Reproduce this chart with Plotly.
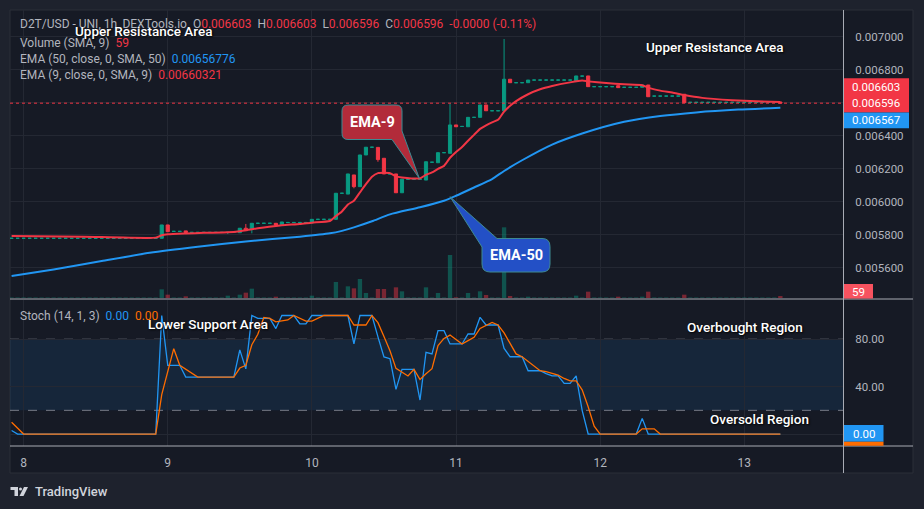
import plotly.graph_objects as go
import pandas as pd

# ---------------- DATA (hourly candles, hour 0 = day 8 00:00) ----------------
hours = list(range(-2, 127))

opens = [
    0.005777, 0.005777, 0.005777, 0.005777, 0.005777, 0.005777, 0.005777, 0.005777, 0.005777, 0.005777,
    0.005777, 0.005777, 0.005777, 0.005777, 0.005777, 0.005777, 0.005777, 0.005777, 0.005777, 0.005777,
    0.005777, 0.005777, 0.005777, 0.005777, 0.005777, 0.005777, 0.005858, 0.005819, 0.005819, 0.005822,
    0.005813, 0.005813, 0.005813, 0.005813, 0.005813, 0.005813, 0.005813, 0.005813, 0.005811, 0.005838,
    0.005832, 0.005868, 0.005868, 0.005868, 0.005868, 0.005859, 0.005873, 0.005873, 0.005873, 0.005873,
    0.005870, 0.005892, 0.005892, 0.005892, 0.005892, 0.006050, 0.006045, 0.006161, 0.006090, 0.006282,
    0.006329, 0.006328, 0.006262, 0.006167, 0.006167, 0.006053, 0.006135, 0.006135, 0.006135, 0.006130,
    0.006238, 0.006235, 0.006296, 0.006292, 0.006464, 0.006455, 0.006453, 0.006510, 0.006510, 0.006585,
    0.006550, 0.006550, 0.006550, 0.006741, 0.006720, 0.006720, 0.006720, 0.006736, 0.006736, 0.006736,
    0.006736, 0.006736, 0.006736, 0.006736, 0.006732, 0.006760, 0.006761, 0.006696, 0.006696, 0.006696,
    0.006696, 0.006702, 0.006692, 0.006692, 0.006692, 0.006692, 0.006706, 0.006639, 0.006639, 0.006639,
    0.006639, 0.006639, 0.006650, 0.006601, 0.006601, 0.006601, 0.006601, 0.006601, 0.006601, 0.006601,
    0.006601, 0.006601, 0.006601, 0.006601, 0.006601, 0.006601, 0.006601, 0.006601, 0.006603,
]
highs = [
    0.005777, 0.005777, 0.005777, 0.005777, 0.005777, 0.005777, 0.005777, 0.005777, 0.005777, 0.005777,
    0.005777, 0.005777, 0.005777, 0.005777, 0.005777, 0.005777, 0.005777, 0.005777, 0.005777, 0.005777,
    0.005777, 0.005777, 0.005777, 0.005777, 0.005777, 0.005858, 0.005858, 0.005819, 0.005819, 0.005822,
    0.005813, 0.005813, 0.005813, 0.005813, 0.005813, 0.005813, 0.005813, 0.005813, 0.005838, 0.005864,
    0.005868, 0.005868, 0.005868, 0.005868, 0.005868, 0.005876, 0.005873, 0.005873, 0.005873, 0.005873,
    0.005892, 0.005892, 0.005892, 0.005892, 0.006050, 0.006050, 0.006167, 0.006161, 0.006282, 0.006329,
    0.006329, 0.006328, 0.006262, 0.006167, 0.006167, 0.006135, 0.006135, 0.006135, 0.006135, 0.006241,
    0.006238, 0.006296, 0.006296, 0.006595, 0.006464, 0.006455, 0.006510, 0.006510, 0.006585, 0.006585,
    0.006550, 0.006550, 0.006985, 0.006741, 0.006720, 0.006720, 0.006736, 0.006736, 0.006736, 0.006736,
    0.006736, 0.006736, 0.006736, 0.006736, 0.006761, 0.006760, 0.006761, 0.006696, 0.006696, 0.006696,
    0.006696, 0.006702, 0.006692, 0.006692, 0.006692, 0.006706, 0.006706, 0.006639, 0.006639, 0.006639,
    0.006639, 0.006639, 0.006650, 0.006601, 0.006601, 0.006601, 0.006601, 0.006601, 0.006601, 0.006601,
    0.006601, 0.006601, 0.006601, 0.006601, 0.006601, 0.006601, 0.006601, 0.006601, 0.006603,
]
lows = [
    0.005777, 0.005777, 0.005777, 0.005777, 0.005777, 0.005777, 0.005777, 0.005777, 0.005777, 0.005777,
    0.005777, 0.005777, 0.005777, 0.005777, 0.005777, 0.005777, 0.005777, 0.005777, 0.005777, 0.005777,
    0.005777, 0.005777, 0.005777, 0.005777, 0.005777, 0.005777, 0.005817, 0.005819, 0.005819, 0.005812,
    0.005813, 0.005813, 0.005813, 0.005813, 0.005813, 0.005813, 0.005803, 0.005813, 0.005811, 0.005823,
    0.005807, 0.005868, 0.005868, 0.005868, 0.005857, 0.005859, 0.005873, 0.005873, 0.005873, 0.005873,
    0.005870, 0.005892, 0.005892, 0.005892, 0.005890, 0.006050, 0.006045, 0.006080, 0.006090, 0.006282,
    0.006329, 0.006241, 0.006167, 0.006167, 0.006053, 0.006053, 0.006135, 0.006135, 0.006135, 0.006130,
    0.006238, 0.006235, 0.006296, 0.006292, 0.006453, 0.006455, 0.006453, 0.006510, 0.006510, 0.006550,
    0.006550, 0.006550, 0.006550, 0.006720, 0.006720, 0.006720, 0.006720, 0.006736, 0.006736, 0.006736,
    0.006736, 0.006736, 0.006736, 0.006736, 0.006732, 0.006760, 0.006696, 0.006696, 0.006696, 0.006696,
    0.006696, 0.006690, 0.006692, 0.006692, 0.006692, 0.006692, 0.006635, 0.006639, 0.006639, 0.006639,
    0.006639, 0.006639, 0.006599, 0.006601, 0.006601, 0.006601, 0.006601, 0.006601, 0.006601, 0.006601,
    0.006601, 0.006601, 0.006601, 0.006601, 0.006601, 0.006601, 0.006601, 0.006601, 0.006596,
]
closes = [
    0.005777, 0.005777, 0.005777, 0.005777, 0.005777, 0.005777, 0.005777, 0.005777, 0.005777, 0.005777,
    0.005777, 0.005777, 0.005777, 0.005777, 0.005777, 0.005777, 0.005777, 0.005777, 0.005777, 0.005777,
    0.005777, 0.005777, 0.005777, 0.005777, 0.005777, 0.005858, 0.005817, 0.005819, 0.005819, 0.005812,
    0.005813, 0.005813, 0.005813, 0.005813, 0.005813, 0.005813, 0.005813, 0.005813, 0.005838, 0.005823,
    0.005868, 0.005868, 0.005868, 0.005868, 0.005857, 0.005876, 0.005873, 0.005873, 0.005873, 0.005873,
    0.005892, 0.005892, 0.005892, 0.005892, 0.006050, 0.006050, 0.006167, 0.006090, 0.006282, 0.006329,
    0.006329, 0.006254, 0.006167, 0.006167, 0.006053, 0.006135, 0.006135, 0.006135, 0.006135, 0.006241,
    0.006238, 0.006296, 0.006296, 0.006464, 0.006453, 0.006455, 0.006510, 0.006510, 0.006585, 0.006550,
    0.006550, 0.006550, 0.006741, 0.006720, 0.006720, 0.006720, 0.006736, 0.006736, 0.006736, 0.006736,
    0.006736, 0.006736, 0.006736, 0.006736, 0.006761, 0.006760, 0.006696, 0.006696, 0.006696, 0.006696,
    0.006696, 0.006690, 0.006692, 0.006692, 0.006692, 0.006706, 0.006635, 0.006639, 0.006639, 0.006639,
    0.006639, 0.006639, 0.006599, 0.006601, 0.006601, 0.006601, 0.006601, 0.006601, 0.006601, 0.006601,
    0.006601, 0.006601, 0.006601, 0.006601, 0.006601, 0.006601, 0.006601, 0.006601, 0.006596,
]
volumes = [
    15, 15, 15, 15, 15, 15, 15, 15, 15, 15,
    15, 15, 15, 15, 15, 15, 15, 15, 15, 15,
    15, 15, 15, 15, 15, 260, 100, 15, 15, 50,
    15, 15, 15, 15, 15, 15, 70, 15, 100, 160,
    280, 15, 15, 15, 40, 15, 15, 15, 15, 15,
    70, 15, 15, 15, 480, 15, 350, 290, 570, 150,
    15, 270, 270, 15, 320, 200, 15, 15, 15, 320,
    15, 150, 15, 1290, 20, 15, 150, 15, 200, 90,
    15, 15, 2120, 60, 15, 15, 40, 15, 15, 15,
    15, 15, 15, 15, 70, 15, 190, 15, 15, 15,
    15, 40, 15, 15, 15, 40, 190, 15, 15, 15,
    15, 15, 100, 15, 15, 15, 15, 15, 15, 15,
    15, 15, 15, 15, 15, 15, 15, 15, 59,
]
stoch_k = [
    3, 0, 0, 0, 0, 0, 0, 0, 0, 0,
    0, 0, 0, 0, 0, 0, 0, 0, 0, 0,
    0, 0, 0, 0, 0, 100, 58, 58, 58, 48,
    48, 48, 48, 48, 48, 48, 48, 48, 71, 55,
    100, 97.6, 97.6, 97.6, 89, 100, 100, 100, 93, 93,
    100, 100, 100, 100, 100, 100, 100, 76, 100, 100,
    100, 82, 65, 63.6, 37.7, 54.6, 54.6, 54.6, 28.7, 69,
    67.6, 87.2, 87.2, 76, 76, 76, 84.4, 84.4, 98.5, 92,
    92, 92, 72.3, 65.2, 65.2, 65.2, 53.4, 53.4, 53.4, 51,
    49, 49, 42.8, 42.8, 49, 20, 0, 0, 0, 0,
    0, 0, 0, 0, 0, 13.2, 0, 0, 0, 0,
    0, 0, 0, 0, 0, 0, 0, 0, 0, 0,
    0, 0, 0, 0, 0, 0, 0, 0, 0,
]
stoch_d = [
    10, 5, 0, 0, 0, 0, 0, 0, 0, 0,
    0, 0, 0, 0, 0, 0, 0, 0, 0, 0,
    0, 0, 0, 0, 0, 33.3, 52.7, 72, 58, 54.7,
    51.3, 48, 48, 48, 48, 48, 48, 48, 55.7, 58,
    75.3, 84.2, 98.4, 97.6, 94.7, 95.5, 96.3, 100, 97.7, 95.3,
    95.3, 97.7, 100, 100, 100, 100, 100, 92, 92, 92,
    100, 94, 82.3, 70.2, 55.4, 52, 49, 54.6, 46, 50.8,
    55.1, 74.6, 80.7, 83.5, 79.7, 76, 78.8, 81.6, 89.1, 91.6,
    94.2, 92, 85.4, 76.5, 67.6, 65.2, 61.3, 57.3, 53.4, 52.6,
    51.1, 49.7, 46.9, 44.9, 44.9, 37.3, 23, 6.7, 0, 0,
    0, 0, 0, 0, 0, 4.4, 4.4, 4.4, 0, 0,
    0, 0, 0, 0, 0, 0, 0, 0, 0, 0,
    0, 0, 0, 0, 0, 0, 0, 0, 0,
]
ema9_hours = [-2, 10, 22, 23, 24, 27, 30, 34, 36, 38, 40, 43, 46, 48, 51, 52, 53, 54, 55, 56, 57, 58,
              59, 60, 61, 62, 63, 66, 67, 68, 69, 70, 71, 72, 73, 74, 75, 76, 77, 78, 79, 80, 81, 82,
              84, 86, 88, 91, 93, 94, 97, 100, 103, 104, 106, 108, 110, 113, 118, 122, 126]
ema9_values = [0.005791, 0.005787, 0.005781, 0.005796, 0.005801, 0.005806, 0.005810, 0.005813, 0.005820,
               0.005832, 0.005843, 0.005856, 0.005864, 0.005872, 0.005882, 0.005912, 0.005940, 0.005982,
               0.006005, 0.006055, 0.006105, 0.006150, 0.006172, 0.006174, 0.006172, 0.006152, 0.006146,
               0.006140, 0.006162, 0.006176, 0.006198, 0.006216, 0.006265, 0.006300, 0.006330, 0.006368,
               0.006404, 0.006440, 0.006462, 0.006480, 0.006495, 0.006545, 0.006580, 0.006608, 0.006650,
               0.006680, 0.006700, 0.006722, 0.006733, 0.006728, 0.006718, 0.006710, 0.006705, 0.006690,
               0.006672, 0.006660, 0.006645, 0.006628, 0.006614, 0.006607, 0.006603]
ema50_hours = [-2, 5, 13, 21, 29, 37, 46, 51, 53, 55, 58, 61, 66, 70, 72, 75, 78, 80, 83, 88, 93,
               100, 106, 112, 119, 126]
ema50_values = [0.0055485, 0.005588, 0.005639, 0.005689, 0.005726, 0.005758, 0.005787, 0.005807,
                0.005822, 0.005843, 0.005880, 0.005922, 0.005965, 0.006005, 0.006035, 0.006085,
                0.006136, 0.006185, 0.006250, 0.006345, 0.006412, 0.006483, 0.006518, 0.006540,
                0.006557, 0.006568]
price_ticks = [0.0056, 0.0058, 0.0060, 0.0062, 0.0064, 0.0066, 0.0068, 0.0070]
price_tick_text = ["0.005600", "0.005800", "0.006000", "0.006200", "0.006400", "", "0.006800", "0.007000"]
day_ticks = ["2024-03-08", "2024-03-09", "2024-03-10", "2024-03-11", "2024-03-12", "2024-03-13"]
day_labels = ["8", "9", "10", "11", "12", "13"]
stoch_ticks = [0, 40, 80]
stoch_tick_text = ["", "40.00", "80.00"]
last_close = 0.006596

# ---------------- STYLE ----------------
UP, DOWN = "#089981", "#f23645"
GRID = "#242833"
TXT = "#b2b5be"
FONT = "Roboto"
W, H = 924, 509
PL, PR, PT, PB = 10, 843, 10, 446   # plot area in pixels


def fx(x):
    return (x - PL) / (PR - PL)


def fy(y):
    return (PB - y) / (PB - PT)


def P(x, y):
    return f"{fx(x):.5f},{fy(y):.5f}"


day0 = pd.Timestamp("2024-03-08")
times = [day0 + pd.Timedelta(hours=h) for h in hours]
xr = [day0 + pd.Timedelta(hours=-2.264), day0 + pd.Timedelta(hours=136.43)]
n = len(closes)

fig = go.Figure()

# volume (overlay axis y2)
vol_colors = ["rgba(242,54,69,0.45)" if closes[i] < opens[i] else "rgba(8,153,129,0.45)" for i in range(n)]
fig.add_trace(go.Bar(x=times, y=volumes, marker=dict(color=vol_colors, line=dict(width=0)),
                     width=0.72 * 3600000, xaxis="x", yaxis="y2", hoverinfo="skip", showlegend=False))

# candles
green_idx = [i for i in range(n) if not closes[i] < opens[i]]
red_idx = [i for i in range(n) if closes[i] < opens[i]]
for idx, col in ((green_idx, UP), (red_idx, DOWN)):
    fig.add_trace(go.Candlestick(
        x=[times[i] for i in idx], open=[opens[i] for i in idx], high=[highs[i] for i in idx],
        low=[lows[i] for i in idx], close=[closes[i] for i in idx],
        increasing=dict(line=dict(color=col, width=1), fillcolor=col),
        decreasing=dict(line=dict(color=col, width=1), fillcolor=col),
        whiskerwidth=0, hoverinfo="skip", showlegend=False, xaxis="x", yaxis="y"))

# EMAs
fig.add_trace(go.Scatter(x=[day0 + pd.Timedelta(hours=h) for h in ema50_hours], y=ema50_values,
                         mode="lines", line=dict(color="#2196f3", width=2, shape="spline", smoothing=0.6),
                         xaxis="x", yaxis="y", hoverinfo="skip", showlegend=False))
fig.add_trace(go.Scatter(x=[day0 + pd.Timedelta(hours=h) for h in ema9_hours], y=ema9_values,
                         mode="lines", line=dict(color="#f23645", width=2, shape="spline", smoothing=0.5),
                         xaxis="x", yaxis="y", hoverinfo="skip", showlegend=False))

# stochastic
fig.add_trace(go.Scatter(x=times, y=stoch_k, mode="lines", line=dict(color="#2196f3", width=1.3),
                         xaxis="x2", yaxis="y3", hoverinfo="skip", showlegend=False))
fig.add_trace(go.Scatter(x=times, y=stoch_d, mode="lines", line=dict(color="#ff6d00", width=1.3),
                         xaxis="x2", yaxis="y3", hoverinfo="skip", showlegend=False))

shapes = []
# chart container background
shapes.append(dict(type="rect", xref="paper", yref="paper", x0=fx(10), x1=fx(913), y0=fy(473), y1=fy(10),
                   fillcolor="#161a25", line=dict(color="#2a2e39", width=1), layer="below"))
# stochastic band
shapes.append(dict(type="rect", xref="paper", yref="y3", x0=0, x1=1, y0=20, y1=80,
                   fillcolor="rgba(33,150,243,0.10)", line=dict(width=0), layer="below"))
for lvl in (20, 80):
    shapes.append(dict(type="line", xref="paper", yref="y3", x0=0, x1=1, y0=lvl, y1=lvl,
                       line=dict(color="#787b86", width=1, dash="dash"), layer="below"))
# last price dotted line
shapes.append(dict(type="line", xref="paper", yref="y", x0=0, x1=1, y0=last_close, y1=last_close,
                   line=dict(color="#f23645", width=1, dash="dot")))
# pane separators
SEP = "#a8abb4"
shapes.append(dict(type="line", xref="paper", yref="paper", x0=fx(10), x1=fx(913), y0=fy(299), y1=fy(299),
                   line=dict(color=SEP, width=1)))
shapes.append(dict(type="line", xref="paper", yref="paper", x0=fx(10), x1=fx(913), y0=fy(446), y1=fy(446),
                   line=dict(color=SEP, width=1)))
shapes.append(dict(type="line", xref="paper", yref="paper", x0=fx(843.5), x1=fx(843.5), y0=fy(10), y1=fy(473),
                   line=dict(color=SEP, width=1)))

# callouts
ema9_path = (f"M{P(348,105)} L{P(396,105)} Q{P(402,105)} {P(402,111)} L{P(402,131)} L{P(419.3,178.3)} "
             f"L{P(392,139.5)} L{P(348,139.5)} Q{P(342,139.5)} {P(342,133.5)} L{P(342,111)} "
             f"Q{P(342,105)} {P(348,105)} Z")
shapes.append(dict(type="path", xref="paper", yref="paper", path=ema9_path,
                   fillcolor="#b22b3a", line=dict(color="#3f8a92", width=1)))
ema50_path = (f"M{P(497,238.5)} L{P(542,238.5)} Q{P(550,238.5)} {P(550,246.5)} L{P(550,264)} "
              f"Q{P(550,272)} {P(542,272)} L{P(490,272)} Q{P(482,272)} {P(482,264)} L{P(482,247)} "
              f"L{P(450,196.7)} Z")
shapes.append(dict(type="path", xref="paper", yref="paper", path=ema50_path,
                   fillcolor="#2350c6", line=dict(color="#3f8a92", width=1)))

# axis price labels
def box(x0, x1, y0, y1, col):
    return dict(type="rect", xref="paper", yref="paper", x0=fx(x0), x1=fx(x1), y0=fy(y1), y1=fy(y0),
                fillcolor=col, line=dict(width=0))

shapes.append(box(844, 909, 78.3, 112.5, "#f23645"))
shapes.append(box(844, 909, 112.5, 128.3, "#2196f3"))
shapes.append(box(844, 873, 284, 298.5, "#f7525f"))
shapes.append(box(844, 883.5, 425, 441.7, "#2196f3"))
shapes.append(box(844, 883.5, 441.7, 445.7, "#ff6d00"))

# TradingView logo glyph
LOGO = "#d1d4dc"
shapes.append(box(10.5, 18, 487, 490, LOGO))
shapes.append(box(14.5, 18, 487, 496, LOGO))
shapes.append(dict(type="circle", xref="paper", yref="paper", x0=fx(19), x1=fx(22), y0=fy(490.5), y1=fy(487.5),
                   fillcolor=LOGO, line=dict(width=0)))
shapes.append(dict(type="path", xref="paper", yref="paper",
                   path=f"M{P(24,487)} L{P(28,487)} L{P(23.5,496)} L{P(19.5,496)} Z",
                   fillcolor=LOGO, line=dict(width=0)))

ann = []


def text(x, y, s, size=12, color=TXT, anchor="left", weight="normal", shadow=None, family=FONT):
    f = dict(family=family, size=size, color=color, weight=weight)
    if shadow:
        f["shadow"] = shadow
    ann.append(dict(xref="paper", yref="paper", x=fx(x), y=fy(y), text=s, showarrow=False,
                    xanchor=anchor, yanchor="middle", font=f))


RED, BLUE, ORG = "#f23645", "#2196f3", "#ff6d00"
sp = "&nbsp;"
text(18, 24.3, f"D2T/USD - UNI, 1h, DEXTools.io{sp}{sp}O<span style='color:{RED}'>0.006603</span>{sp}{sp}"
     f"H<span style='color:{RED}'>0.006603</span>{sp}{sp}L<span style='color:{RED}'>0.006596</span>{sp}{sp}"
     f"C<span style='color:{RED}'>0.006596</span>{sp}{sp}<span style='color:{RED}'>-0.0000 (-0.11%)</span>")
text(18, 42.7, f"Volume (SMA, 9){sp}{sp}<span style='color:{RED}'>59</span>")
text(18, 59.0, f"EMA (50, close, 0, SMA, 50){sp}{sp}<span style='color:{BLUE}'>0.00656776</span>")
text(18, 75.3, f"EMA (9, close, 0, SMA, 9){sp}{sp}<span style='color:{RED}'>0.00660321</span>")
text(18, 315.7, f"Stoch (14, 1, 3){sp}{sp}<span style='color:{BLUE}'>0.00</span>{sp}{sp}"
     f"<span style='color:{ORG}'>0.00</span>")

WH = dict(size=13.5, color="#ffffff", anchor="center", weight=500, shadow="1px 1px 2px #000000")
text(143.5, 30.5, "Upper Resistance Area", **WH)
text(714, 47.3, "Upper Resistance Area", **WH)
text(207.7, 324, "Lower Support Area", **WH)
text(745, 327.3, "Overbought Region", **WH)
text(759.7, 419.3, "Oversold Region", **WH)

text(372, 122, "EMA-9", size=14.5, color="#ffffff", anchor="center", weight="bold")
text(516, 255.5, "EMA-50", size=14.5, color="#ffffff", anchor="center", weight="bold")

text(876.5, 86.7, "0.006603", size=11.5, color="#ffffff", anchor="center")
text(876.5, 103.5, "0.006596", size=11.5, color="#ffffff", anchor="center")
text(876.5, 120.3, "0.006567", size=11.5, color="#ffffff", anchor="center")
text(858.5, 291.5, "59", size=11.5, color="#ffffff", anchor="center")
text(863.7, 433.5, "0.00", size=11.5, color="#ffffff", anchor="center")

text(33, 491.5, "TradingView", size=13, color=LOGO, weight=500)

fig.update_layout(
    width=W, height=H, margin=dict(l=PL, r=W - PR, t=PT, b=H - PB, autoexpand=False),
    paper_bgcolor="#1e222d", plot_bgcolor="rgba(0,0,0,0)",
    boxgap=0.25, showlegend=False, hovermode=False,
    shapes=shapes, annotations=ann,
    xaxis=dict(domain=[0, 1], anchor="y", range=xr, type="date", tickvals=day_ticks, showticklabels=False,
               showgrid=True, gridcolor=GRID, zeroline=False, showline=False, rangeslider=dict(visible=False),
               fixedrange=True),
    xaxis2=dict(domain=[0, 1], anchor="y3", range=xr, type="date", matches="x", tickvals=day_ticks,
                ticktext=day_labels, showgrid=True, gridcolor=GRID, zeroline=False, showline=False,
                ticks="outside", ticklen=6, tickcolor="rgba(0,0,0,0)",
                tickfont=dict(family=FONT, size=12, color=TXT), rangeslider=dict(visible=False)),
    yaxis=dict(domain=[fy(298), 1], anchor="x", side="right", range=[0.0054152, 0.0071606],
               tickvals=price_ticks, ticktext=price_tick_text, showgrid=True, gridcolor=GRID, zeroline=False,
               ticks="outside", ticklen=9, tickcolor="rgba(0,0,0,0)",
               tickfont=dict(family=FONT, size=11.5, color=TXT)),
    yaxis2=dict(domain=[fy(298), 1], anchor="x", overlaying="y", range=[0, 8640], visible=False),
    yaxis3=dict(domain=[0, fy(300)], anchor="x2", side="right", range=[-10.1, 113.1],
                tickvals=stoch_ticks, ticktext=stoch_tick_text, showgrid=True, gridcolor=GRID,
                zeroline=False, ticks="outside", ticklen=9, tickcolor="rgba(0,0,0,0)",
                tickfont=dict(family=FONT, size=11.5, color=TXT)),
)

fig.write_html("out.html")
